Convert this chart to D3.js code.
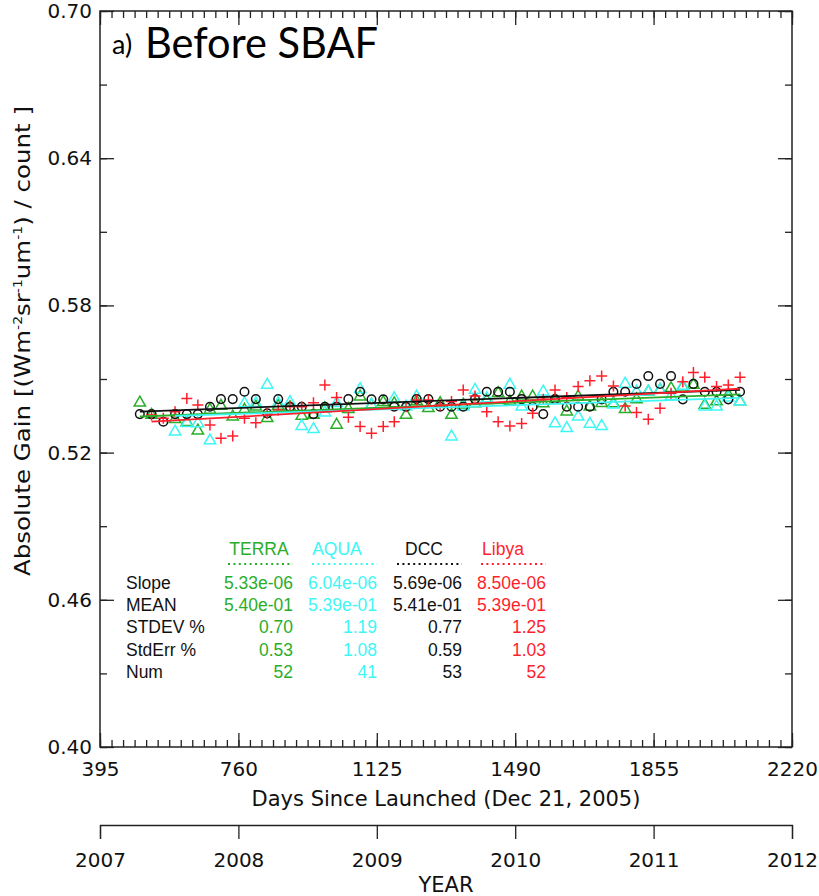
<!DOCTYPE html>
<html>
<head>
<meta charset="utf-8">
<script src="https://cdn.jsdelivr.net/npm/d3@7"></script>
<style>
  body { margin: 0; background: #fff; }
  svg { display: block; }
</style>
</head>
<body>
<svg id="chart" width="819" height="896"></svg>
<script>
// monthly sample days (days since launch)
const days = [500, 531, 562, 593, 624, 653, 685, 714, 745, 776, 806, 836, 865, 896, 927, 958, 988, 1019, 1050, 1081, 1111, 1142, 1171, 1202, 1230, 1261, 1292, 1322, 1353, 1384, 1415, 1445, 1476, 1507, 1536, 1564, 1595, 1626, 1656, 1687, 1718, 1749, 1780, 1810, 1841, 1872, 1901, 1932, 1960, 1990, 2021, 2052, 2083];

const terra = [0.5403, 0.5353, null, 0.5336, 0.5324, 0.5289, 0.5374, 0.539, 0.5346, 0.5374, 0.5387, 0.534, 0.539, 0.5385, 0.5349, 0.5353, 0.538, 0.5313, 0.5377, 0.5428, 0.5394, 0.5405, 0.54, 0.5353, 0.5408, 0.5381, 0.5401, 0.5353, 0.5395, 0.54, 0.5414, 0.5442, 0.5408, 0.5428, 0.5428, 0.54, 0.5414, 0.5367, 0.5428, 0.5387, 0.5401, 0.54, 0.5377, 0.5417, 0.5448, 0.5455, 0.5462, 0.5469, 0.5476, 0.5394, 0.5408, 0.5435, 0.5408];

const aqua = [null, null, null, 0.5285, 0.532, 0.5319, 0.5249, null, null, 0.54, 0.5401, 0.5476, 0.5401, 0.5405, 0.5308, 0.5295, 0.5363, 0.5401, null, 0.5458, 0.5395, null, 0.5421, 0.5387, 0.5428, null, null, 0.5265, 0.5387, 0.5455, 0.5421, null, 0.5476, 0.5387, null, 0.5448, 0.5319, 0.5299, 0.5346, 0.5317, 0.5308, 0.5395, 0.548, 0.5448, 0.5448, 0.5455, 0.543, 0.5472, null, 0.5387, 0.5387, 0.5424, 0.5408];

const dcc = [0.5357, 0.5357, 0.5326, 0.5357, 0.5357, 0.5357, 0.5387, 0.5418, 0.5418, 0.5448, 0.5418, 0.536, 0.5418, 0.5387, 0.5387, 0.5357, 0.5387, 0.5387, 0.5418, 0.5448, 0.5417, 0.5417, 0.5387, 0.5387, 0.5418, 0.5418, 0.5387, 0.5387, 0.5387, 0.5418, 0.5448, 0.5448, 0.5448, 0.5418, 0.5387, 0.5357, 0.5418, 0.5387, 0.5387, 0.5387, 0.5417, 0.5448, 0.5448, 0.548, 0.5512, 0.548, 0.5512, 0.5417, 0.548, 0.5448, 0.5448, 0.5417, 0.5448];

const libya = [null, 0.5353, 0.534, 0.5367, 0.5421, 0.5394, 0.5313, 0.5258, 0.5268, 0.534, 0.5322, 0.536, 0.5374, 0.5387, 0.5387, 0.5403, 0.5476, 0.5425, 0.5344, 0.5306, 0.5279, 0.5306, 0.5326, 0.5387, 0.5414, 0.5414, 0.5394, 0.5408, 0.5455, 0.5431, 0.5367, 0.5326, 0.5308, 0.5319, 0.536, 0.5417, 0.5455, 0.5425, 0.5469, 0.5493, 0.5512, 0.5471, 0.539, 0.5363, 0.5336, 0.5381, 0.5442, 0.5489, 0.5526, 0.5507, 0.5469, 0.5476, 0.5507];

const seriesNames = ["TERRA", "AQUA", "DCC", "Libya"];
const statLabels = ["Slope", "MEAN", "STDEV %", "StdErr %", "Num"];
const slopeText = ["5.33e-06", "6.04e-06", "5.69e-06", "8.50e-06"];
const meanText = ["5.40e-01", "5.39e-01", "5.41e-01", "5.39e-01"];
const stdevText = ["0.70", "1.19", "0.77", "1.25"];
const stderrText = ["0.53", "1.08", "0.59", "1.03"];
const numText = ["52", "41", "53", "52"];

const dayTicks = [395, 760, 1125, 1490, 1855, 2220];
const gainTicks = [0.40, 0.46, 0.52, 0.58, 0.64, 0.70];
const yearTicks = [2007, 2008, 2009, 2010, 2011, 2012];

const colors = { TERRA: "#2aae2a", AQUA: "#3ff6f6", DCC: "#111111", Libya: "#ff1f2c" };

const svg = d3.select("#chart");
const plot = { left: 100, right: 792, top: 11, bottom: 747 };
const axisFont = "'DejaVu Sans', sans-serif";
const tableFont = "'Liberation Sans', Arial, sans-serif";

const x = d3.scaleLinear().domain([395, 2220]).range([plot.left, plot.right]);
const y = d3.scaleLinear().domain([0.40, 0.70]).range([plot.bottom, plot.top]);
const xYear = d3.scaleLinear().domain([2007, 2012]).range([plot.left, plot.right]);

// minor ticks: months on x, 0.03 on y
const minorDays = d3.range(0, 5 * 12 + 1).map((i) => 395 + (i * 365) / 12);
const minorGain = d3.range(0, 11).map((i) => 0.40 + i * 0.03);

function styleAxis(g) {
  g.select(".domain").remove();
  g.selectAll("line").attr("stroke", "#222").attr("stroke-width", 1.3);
}

// minor ticks
svg.append("g").attr("transform", `translate(0,${plot.bottom})`)
  .call(d3.axisBottom(x).tickValues(minorDays).tickSize(-7).tickFormat(""))
  .call(styleAxis);
svg.append("g").attr("transform", `translate(0,${plot.top})`)
  .call(d3.axisTop(x).tickValues(minorDays).tickSize(-7).tickFormat(""))
  .call(styleAxis);
svg.append("g").attr("transform", `translate(${plot.left},0)`)
  .call(d3.axisLeft(y).tickValues(minorGain).tickSize(-7).tickFormat(""))
  .call(styleAxis);
svg.append("g").attr("transform", `translate(${plot.right},0)`)
  .call(d3.axisRight(y).tickValues(minorGain).tickSize(-7).tickFormat(""))
  .call(styleAxis);

// major ticks with labels
const xAxis = svg.append("g").attr("transform", `translate(0,${plot.bottom})`)
  .call(d3.axisBottom(x).tickValues(dayTicks).tickSize(-14).tickPadding(15).tickFormat(d3.format("d")))
  .call(styleAxis);
svg.append("g").attr("transform", `translate(0,${plot.top})`)
  .call(d3.axisTop(x).tickValues(dayTicks).tickSize(-14).tickFormat(""))
  .call(styleAxis);
const yAxis = svg.append("g").attr("transform", `translate(${plot.left},0)`)
  .call(d3.axisLeft(y).tickValues(gainTicks).tickSize(-14).tickPadding(8).tickFormat(d3.format(".2f")))
  .call(styleAxis);
svg.append("g").attr("transform", `translate(${plot.right},0)`)
  .call(d3.axisRight(y).tickValues(gainTicks).tickSize(-14).tickFormat(""))
  .call(styleAxis);

[xAxis, yAxis].forEach((g) =>
  g.selectAll("text").attr("font-family", axisFont).attr("font-size", 20).attr("fill", "#111")
);

// frame
svg.append("rect")
  .attr("x", plot.left).attr("y", plot.top)
  .attr("width", plot.right - plot.left).attr("height", plot.bottom - plot.top)
  .attr("fill", "none").attr("stroke", "#222").attr("stroke-width", 1.5);

// year axis
const yearAxis = svg.append("g").attr("transform", "translate(0,825)")
  .call(d3.axisBottom(xYear).tickValues(yearTicks).tickSize(14).tickPadding(14).tickFormat(d3.format("d")));
yearAxis.select(".domain").attr("stroke", "#222").attr("stroke-width", 1.3);
yearAxis.selectAll("line").attr("stroke", "#222").attr("stroke-width", 1.3);
yearAxis.selectAll("text").attr("font-family", axisFont).attr("font-size", 20).attr("fill", "#111");

// axis titles
svg.append("text")
  .attr("x", (plot.left + plot.right) / 2).attr("y", 806)
  .attr("text-anchor", "middle").attr("fill", "#111")
  .attr("font-family", axisFont).attr("font-size", 21)
  .text("Days Since Launched (Dec 21, 2005)");

svg.append("text")
  .attr("x", (plot.left + plot.right) / 2).attr("y", 892)
  .attr("text-anchor", "middle").attr("fill", "#111")
  .attr("font-family", axisFont).attr("font-size", 21)
  .text("YEAR");

const yTitle = svg.append("text")
  .attr("transform", "translate(30,341) rotate(-90)")
  .attr("text-anchor", "middle").attr("fill", "#111")
  .attr("font-family", axisFont).attr("font-size", 21)
  .attr("textLength", 470).attr("lengthAdjust", "spacingAndGlyphs");
yTitle.append("tspan").text("Absolute Gain [(Wm");
yTitle.append("tspan").attr("dy", -8).attr("font-size", 12).text("-2");
yTitle.append("tspan").attr("dy", 8).text("sr");
yTitle.append("tspan").attr("dy", -8).attr("font-size", 12).text("-1");
yTitle.append("tspan").attr("dy", 8).text("um");
yTitle.append("tspan").attr("dy", -8).attr("font-size", 12).text("-1");
yTitle.append("tspan").attr("dy", 8).text(") / count ]");

// panel title
svg.append("text")
  .attr("x", 112).attr("y", 54).attr("fill", "#000")
  .attr("font-family", "Lato, 'Open Sans', sans-serif").attr("font-size", 27)
  .text("a)");
svg.append("text")
  .attr("x", 145).attr("y", 58).attr("fill", "#000")
  .attr("font-family", "Lato, 'Open Sans', sans-serif").attr("font-size", 43)
  .attr("textLength", 233).attr("lengthAdjust", "spacingAndGlyphs")
  .text("Before SBAF");

// data
const seriesData = [
  { name: "TERRA", values: terra, shape: "triangle" },
  { name: "AQUA", values: aqua, shape: "triangle" },
  { name: "DCC", values: dcc, shape: "circle" },
  { name: "Libya", values: libya, shape: "plus" },
];
seriesData.forEach((s) => {
  s.points = days.map((d, i) => ({ day: d, gain: s.values[i] })).filter((p) => p.gain != null);
});

const markerPath = {
  triangle: d3.symbol().type(d3.symbolTriangle).size(56)(),
  plus: "M-5.5,0H5.5M0,-5.5V5.5",
};

const marks = svg.append("g");
seriesData.forEach((s) => {
  const g = marks.append("g");
  if (s.shape === "circle") {
    g.selectAll("circle").data(s.points).join("circle")
      .attr("cx", (d) => x(d.day)).attr("cy", (d) => y(d.gain))
      .attr("r", 4.3)
      .attr("fill", "none").attr("stroke", colors[s.name]).attr("stroke-width", 1.5);
  } else {
    g.selectAll("path").data(s.points).join("path")
      .attr("transform", (d) => `translate(${x(d.day)},${y(d.gain)})`)
      .attr("d", markerPath[s.shape])
      .attr("fill", "none").attr("stroke", colors[s.name]).attr("stroke-width", 1.5);
  }
});

// least-squares trend lines
function fit(points) {
  const mx = d3.mean(points, (p) => p.day);
  const my = d3.mean(points, (p) => p.gain);
  const sxy = d3.sum(points, (p) => (p.day - mx) * (p.gain - my));
  const sxx = d3.sum(points, (p) => (p.day - mx) ** 2);
  const b = sxy / sxx;
  return (d) => my + b * (d - mx);
}
const trends = svg.append("g");
seriesData.forEach((s) => {
  const f = fit(s.points);
  const [d0, d1] = d3.extent(s.points, (p) => p.day);
  trends.append("line")
    .attr("x1", x(d0)).attr("y1", y(f(d0)))
    .attr("x2", x(d1)).attr("y2", y(f(d1)))
    .attr("stroke", colors[s.name]).attr("stroke-width", 1.8);
});

// statistics table
const colRight = [293, 377, 462, 546];
const colHeaderX = [259, 337, 424, 503];
const rowY = [589, 611, 633, 656, 678];
const statRows = [slopeText, meanText, stdevText, stderrText, numText];

const table = svg.append("g").attr("font-family", tableFont).attr("font-size", 17.5);
seriesNames.forEach((name, i) => {
  table.append("text")
    .attr("x", colHeaderX[i]).attr("y", 555)
    .attr("text-anchor", "middle")
    .attr("fill", colors[name])
    .text(name);
  table.append("line")
    .attr("x1", colRight[i] - 65).attr("x2", colRight[i])
    .attr("y1", 564).attr("y2", 564)
    .attr("stroke", colors[name]).attr("stroke-width", 2)
    .attr("stroke-dasharray", "2,3.4");
});
statLabels.forEach((label, r) => {
  table.append("text").attr("x", 126).attr("y", rowY[r]).attr("fill", "#111").text(label);
  statRows[r].forEach((v, i) => {
    table.append("text")
      .attr("x", colRight[i]).attr("y", rowY[r])
      .attr("text-anchor", "end")
      .attr("fill", colors[seriesNames[i]])
      .text(v);
  });
});
</script>
</body>
</html>
